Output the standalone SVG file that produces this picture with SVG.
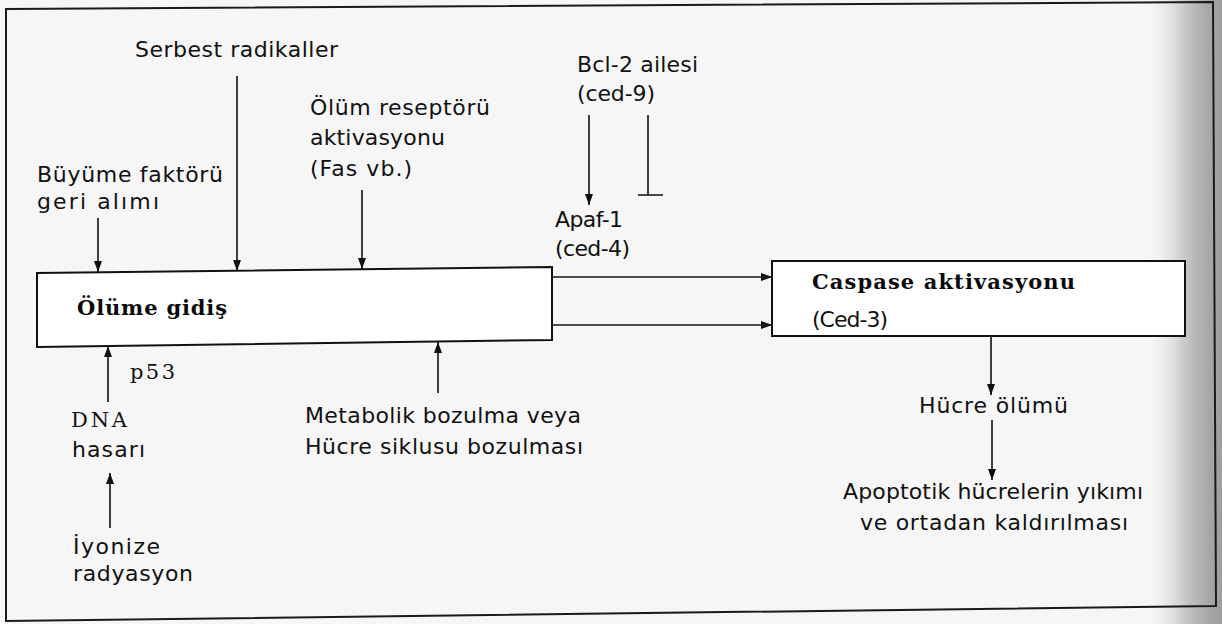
<svg xmlns="http://www.w3.org/2000/svg" width="1222" height="624" viewBox="0 0 1222 624">
  <defs>
    <style>
      .lbl { font-family: "DejaVu Sans", "Noto Sans", sans-serif; font-size: 22px; fill: #111; }
      .ser { font-family: "DejaVu Serif", "Liberation Serif", serif; font-size: 21px; fill: #111; }
      .bold { font-family: "DejaVu Serif", "Liberation Serif", serif; font-size: 21px; font-weight: bold; fill: #0a0a0a; }
      .box { fill: #ffffff; stroke: #111; stroke-width: 2; }
      .edge { fill: none; stroke: #111; stroke-width: 1.6; }
      .frame { fill: none; stroke: #1a1a1a; stroke-width: 2; }
    </style>
    <marker id="ah" markerWidth="11" markerHeight="8" refX="11" refY="4" orient="auto" markerUnits="userSpaceOnUse">
      <path d="M0,0 L11,4 L0,8 z" fill="#111"/>
    </marker>
    <linearGradient id="pageEdge" x1="0" y1="0" x2="1" y2="0">
      <stop offset="0" stop-color="#f5f5f5" stop-opacity="0"/>
      <stop offset="0.5" stop-color="#cacaca"/>
      <stop offset="0.8" stop-color="#a8a8a8"/>
      <stop offset="1" stop-color="#9e9e9e"/>
    </linearGradient>
  </defs>

  <rect x="0" y="0" width="1222" height="624" fill="#f6f6f6"/>
  <rect x="1145" y="0" width="77" height="624" fill="url(#pageEdge)"/>
  <polygon class="frame" points="6,9 1213,2 1216,606 6,621"/>

  <g id="n-serbest"><text class="lbl" x="135" y="57" textLength="203">Serbest radikaller</text></g>
  <g id="n-buyume">
    <text class="lbl" x="37" y="182" textLength="186">Büyüme faktörü</text>
    <text class="lbl" x="37" y="209" textLength="122">geri alımı</text>
  </g>
  <g id="n-olumres">
    <text class="lbl" x="310" y="115" textLength="180">Ölüm reseptörü</text>
    <text class="lbl" x="310" y="145" textLength="135">aktivasyonu</text>
    <text class="lbl" x="310" y="176" textLength="102">(Fas vb.)</text>
  </g>
  <g id="n-bcl2">
    <text class="lbl" x="577" y="72" textLength="121">Bcl-2 ailesi</text>
    <text class="lbl" x="577" y="101" textLength="78">(ced-9)</text>
  </g>
  <g id="n-apaf">
    <text class="lbl" x="555" y="227" textLength="68">Apaf-1</text>
    <text class="lbl" x="555" y="256" textLength="75">(ced-4)</text>
  </g>
  <g id="n-olume">
    <polygon class="box" points="37,273 552,267 552,340 37,347"/>
    <text class="bold" x="77" y="315" textLength="150">Ölüme gidiş</text>
  </g>
  <g id="n-caspase">
    <rect class="box" x="772" y="261" width="413" height="75"/>
    <text class="bold" x="812" y="289" textLength="263">Caspase aktivasyonu</text>
    <text class="lbl" x="812" y="327" textLength="76">(Ced-3)</text>
  </g>
  <g id="n-p53"><text class="ser" x="130" y="379" textLength="45">p53</text></g>
  <g id="n-dna">
    <text class="ser" x="71" y="427" textLength="56">DNA</text>
    <text class="lbl" x="72" y="457" textLength="73">hasarı</text>
  </g>
  <g id="n-iyonize">
    <text class="lbl" x="73" y="554" textLength="87">İyonize</text>
    <text class="lbl" x="73" y="581" textLength="120">radyasyon</text>
  </g>
  <g id="n-metabolik">
    <text class="lbl" x="305" y="423" textLength="276">Metabolik bozulma veya</text>
    <text class="lbl" x="305" y="454" textLength="278">Hücre siklusu bozulması</text>
  </g>
  <g id="n-hucre"><text class="lbl" x="919" y="413" textLength="149">Hücre ölümü</text></g>
  <g id="n-apoptotik">
    <text class="lbl" x="843" y="499" textLength="300">Apoptotik hücrelerin yıkımı</text>
    <text class="lbl" x="860" y="530" textLength="268">ve ortadan kaldırılması</text>
  </g>

  <g id="connectors">
    <path class="edge" d="M98,218 V272" marker-end="url(#ah)"/>
    <path class="edge" d="M237,76 V271" marker-end="url(#ah)"/>
    <path class="edge" d="M362,190 V269" marker-end="url(#ah)"/>
    <path class="edge" d="M108,402 V346" marker-end="url(#ah)"/>
    <path class="edge" d="M438,393 V342" marker-end="url(#ah)"/>
    <path class="edge" d="M110,528 V473" marker-end="url(#ah)"/>
    <path class="edge" d="M589,115 V205" marker-end="url(#ah)"/>
    <path class="edge" d="M648,115 V195 M638,195 H663"/>
    <path class="edge" d="M552,277 H772" marker-end="url(#ah)"/>
    <path class="edge" d="M552,325 H772" marker-end="url(#ah)"/>
    <path class="edge" d="M991,337 V395" marker-end="url(#ah)"/>
    <path class="edge" d="M992,420 V480" marker-end="url(#ah)"/>
  </g>
</svg>
